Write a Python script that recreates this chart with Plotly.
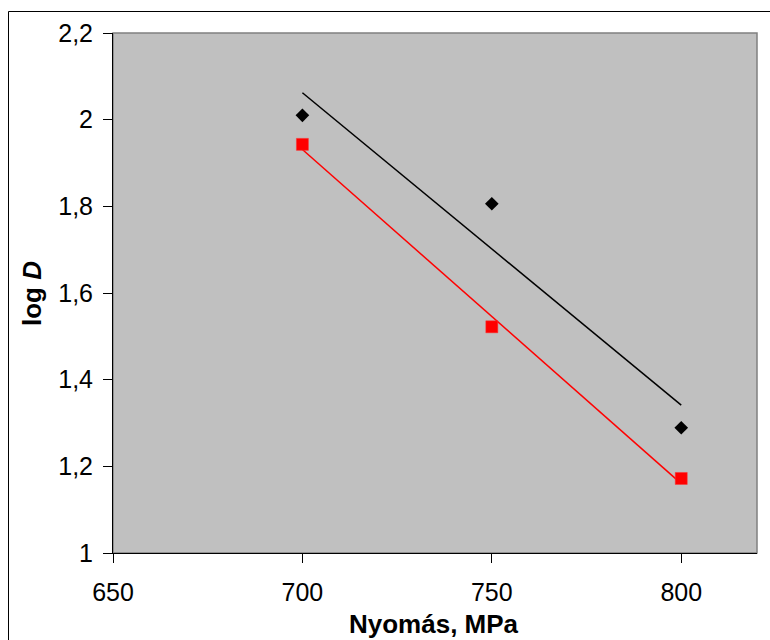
import numpy as np
import plotly.graph_objects as go

# Pressure (MPa) and log D for the two series
pressure = [700, 750, 800]
logd_black = [2.01, 1.806, 1.289]
logd_red = [1.943, 1.522, 1.172]

y_ticks = [1.0, 1.2, 1.4, 1.6, 1.8, 2.0, 2.2]
y_tick_text = ["1", "1,2", "1,4", "1,6", "1,8", "2", "2,2"]
x_ticks = [650, 700, 750, 800]

FONT = "Liberation Sans, Arial, sans-serif"


def linear_fit(x, y):
    slope, intercept = np.polyfit(x, y, 1)
    xs = np.array([min(x), max(x)], dtype=float)
    return xs, slope * xs + intercept


fig = go.Figure()

# Linear trend lines (drawn first so markers sit on top)
for ys, color in [(logd_black, "black"), (logd_red, "red")]:
    fx, fy = linear_fit(pressure, ys)
    fig.add_trace(go.Scatter(x=fx, y=fy, mode="lines",
                             line=dict(color=color, width=1.5),
                             hoverinfo="skip", showlegend=False))

fig.add_trace(go.Scatter(x=pressure, y=logd_black, mode="markers",
                         marker=dict(symbol="diamond", size=10.5, color="black",
                                     line=dict(width=0)),
                         showlegend=False))
fig.add_trace(go.Scatter(x=pressure, y=logd_red, mode="markers",
                         marker=dict(symbol="square", size=12, color="#ff0000",
                                     line=dict(width=0.5, color="#ff3333")),
                         showlegend=False))

L, T, R, B = 113, 33, 13, 87
W, H = 770, 640
pw, ph = W - L - R, H - T - B


def px_x(p):
    return (p - L) / pw


def px_y(p):
    return (H - B - p) / ph


fig.update_layout(
    width=W, height=H,
    margin=dict(l=L, r=R, t=T, b=B, pad=0),
    paper_bgcolor="white",
    plot_bgcolor="#c0c0c0",
    font=dict(family=FONT, size=25, color="black"),
    xaxis=dict(range=[650, 820], tickvals=x_ticks, showgrid=False, zeroline=False,
               showline=True, linecolor="black", linewidth=1,
               ticks="outside", ticklen=9, tickcolor="black", tickwidth=1,
               tickfont=dict(size=25), ticklabelstandoff=8, automargin=False),
    yaxis=dict(range=[1.0, 2.2], tickvals=y_ticks, ticktext=y_tick_text,
               showgrid=False, zeroline=False,
               showline=True, linecolor="black", linewidth=1,
               ticks="outside", ticklen=9, tickcolor="black", tickwidth=1,
               tickfont=dict(size=25), ticklabelstandoff=5, automargin=False),
    shapes=[
        # plot area frame (top/right edges in grey)
        dict(type="rect", xref="paper", yref="paper", x0=0, y0=0, x1=1, y1=1,
             line=dict(color="#808080", width=1.5), layer="below"),
        # outer chart border
        dict(type="rect", xref="paper", yref="paper",
             x0=px_x(8.5), y0=px_y(660), x1=px_x(790), y1=px_y(11.5),
             line=dict(color="black", width=1), layer="below"),
    ],
    annotations=[
        dict(text="<b>Nyomás, MPa</b>", xref="paper", yref="paper",
             x=px_x(434), y=px_y(624), xanchor="center", yanchor="middle",
             showarrow=False, font=dict(size=26)),
        dict(text="<b>log <i>D</i></b>", xref="paper", yref="paper",
             x=px_x(32), y=px_y(294), xanchor="center", yanchor="middle",
             textangle=-90, showarrow=False, font=dict(size=26)),
    ],
)

fig.write_html("out.html")
